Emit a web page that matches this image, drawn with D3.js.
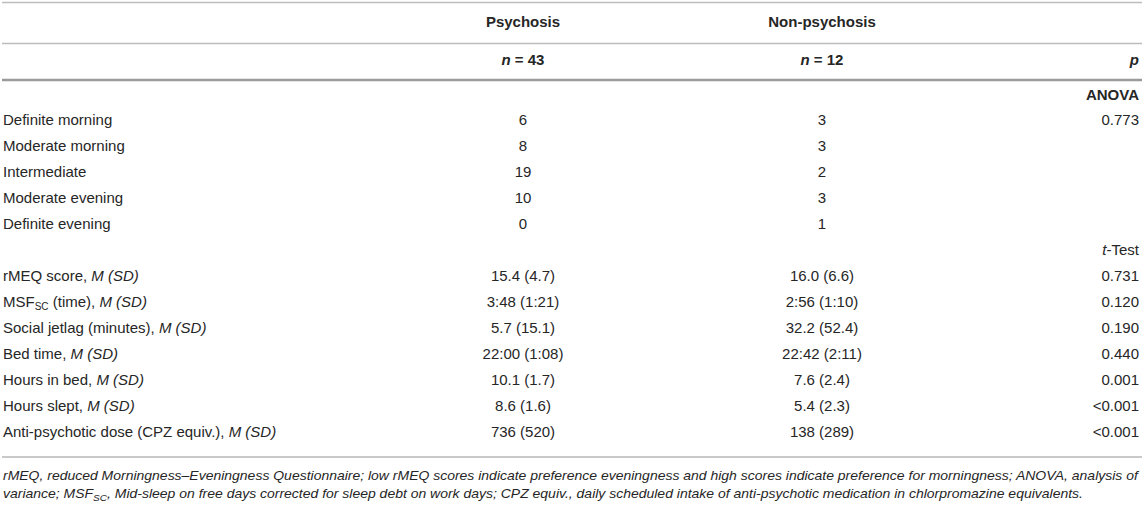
<!DOCTYPE html>
<html>
<head>
<meta charset="utf-8">
<script src="https://cdn.jsdelivr.net/npm/d3@7"></script>
<style>
html,body{margin:0;padding:0;background:#fff;}
svg{display:block;font-family:"Liberation Sans",Arial,Helvetica,sans-serif;}
</style>
</head>
<body>
<svg id="chart" width="1144" height="505"></svg>
<script>
// ---- data ----
const groups = ["Psychosis", "Non-psychosis"];
const groupN = [43, 12];
const rowLabels = [
  "Definite morning", "Moderate morning", "Intermediate", "Moderate evening", "Definite evening",
  "rMEQ score, M (SD)", "MSF_SC (time), M (SD)", "Social jetlag (minutes), M (SD)",
  "Bed time, M (SD)", "Hours in bed, M (SD)", "Hours slept, M (SD)",
  "Anti-psychotic dose (CPZ equiv.), M (SD)"
];
const psychosisValues = ["6", "8", "19", "10", "0", "15.4 (4.7)", "3:48 (1:21)", "5.7 (15.1)", "22:00 (1:08)", "10.1 (1.7)", "8.6 (1.6)", "736 (520)"];
const nonPsychosisValues = ["3", "3", "2", "3", "1", "16.0 (6.6)", "2:56 (1:10)", "32.2 (52.4)", "22:42 (2:11)", "7.6 (2.4)", "5.4 (2.3)", "138 (289)"];
const pValues = ["0.773", "", "", "", "", "0.731", "0.120", "0.190", "0.440", "0.001", "<0.001", "<0.001"];
const testLabels = ["ANOVA", "t-Test"];
const footnoteLines = [
  "rMEQ, reduced Morningness–Eveningness Questionnaire; low rMEQ scores indicate preference eveningness and high scores indicate preference for morningness; ANOVA, analysis of",
  "variance; MSF_SC, Mid-sleep on free days corrected for sleep debt on work days; CPZ equiv., daily scheduled intake of anti-psychotic medication in chlorpromazine equivalents."
];

// ---- layout ----
const W = 1144;
const svg = d3.select("#chart");
const ink = "#262626";
const fs = 15;

const x = d3.scaleOrdinal().domain(["label", "Psychosis", "Non-psychosis", "p"]).range([3, 523, 822, 1139]);
const bodyOrder = ["ANOVA", ...rowLabels.slice(0, 5), "t-Test", ...rowLabels.slice(5)];
const y = d3.scalePoint().domain(bodyOrder).range([99.5, 437]);

const rules = [
  {y: 2.5, w: 1.6, c: "#bdbdbd"},
  {y: 43.5, w: 1.6, c: "#bdbdbd"},
  {y: 80, w: 2.6, c: "#9a9a9a"},
  {y: 457, w: 2, c: "#c8c8c8"}
];
svg.selectAll("line.rule").data(rules).join("line")
  .attr("class", "rule")
  .attr("x1", 2).attr("x2", W - 2)
  .attr("y1", d => d.y).attr("y2", d => d.y)
  .attr("stroke", d => d.c).attr("stroke-width", d => d.w);

function richText(sel, str, opts) {
  opts = opts || {};
  const parts = [];
  let s = str;
  const mIdx = s.lastIndexOf("M (SD)");
  let tail = null;
  if (mIdx >= 0) { tail = s.slice(mIdx); s = s.slice(0, mIdx); }
  if (s.indexOf("_SC") >= 0) {
    const [a, b] = s.split("_SC");
    parts.push({t: a}); parts.push({t: "SC", sub: true}); parts.push({t: b, after: true});
  } else parts.push({t: s});
  if (tail) parts.push({t: tail, it: true});
  const dy = opts.subDy || 3;
  parts.forEach(p => {
    if (!p.t) return;
    const ts = sel.append("tspan").text(p.t);
    if (p.it || opts.italic) ts.attr("font-style", "italic");
    if (p.sub) ts.attr("font-size", opts.subSize || 10).attr("dy", dy);
    if (p.after) ts.attr("dy", -dy);
  });
}

svg.selectAll("text.grp").data(groups).join("text")
  .attr("class", "grp")
  .attr("x", d => x(d)).attr("y", 27)
  .attr("text-anchor", "middle").attr("font-weight", "bold")
  .attr("font-size", fs).attr("fill", ink)
  .text(d => d);

svg.selectAll("text.n").data(groups).join("text")
  .attr("class", "n")
  .attr("x", d => x(d)).attr("y", 65)
  .attr("text-anchor", "middle").attr("font-weight", "bold")
  .attr("font-size", fs).attr("fill", ink)
  .each(function(d, i) {
    const t = d3.select(this);
    t.append("tspan").attr("font-style", "italic").text("n");
    t.append("tspan").text(" = " + groupN[i]);
  });

svg.append("text")
  .attr("x", x("p")).attr("y", 65).attr("text-anchor", "end")
  .attr("font-weight", "bold").attr("font-style", "italic")
  .attr("font-size", fs).attr("fill", ink).text("p");

svg.append("text")
  .attr("x", x("p")).attr("y", y("ANOVA")).attr("text-anchor", "end")
  .attr("font-weight", "bold").attr("font-size", fs).attr("fill", ink)
  .text(testLabels[0]);
const tt = svg.append("text")
  .attr("x", x("p")).attr("y", y("t-Test")).attr("text-anchor", "end")
  .attr("font-size", fs).attr("fill", ink);
tt.append("tspan").attr("font-style", "italic").text(testLabels[1].split("-")[0]);
tt.append("tspan").text("-" + testLabels[1].split("-")[1]);

const rows = rowLabels.map((l, i) => ({label: l, a: psychosisValues[i], b: nonPsychosisValues[i], p: pValues[i]}));
const g = svg.selectAll("g.row").data(rows).join("g").attr("class", "row")
  .attr("transform", d => `translate(0,${y(d.label)})`)
  .attr("font-size", fs).attr("fill", ink);

g.append("text").attr("x", x("label")).each(function(d) { richText(d3.select(this), d.label, {subSize: 10, subDy: 3}); });
g.append("text").attr("x", x("Psychosis")).attr("text-anchor", "middle").text(d => d.a);
g.append("text").attr("x", x("Non-psychosis")).attr("text-anchor", "middle").text(d => d.b);
g.append("text").attr("x", x("p")).attr("text-anchor", "end").text(d => d.p);

// footnote: stretched horizontally so the first line spans the table width
const fy = [480.5, 498.5];
const foot = svg.append("g");
const ft = foot.selectAll("text.foot").data(footnoteLines).join("text")
  .attr("class", "foot")
  .attr("x", 0).attr("y", (d, i) => fy[i])
  .attr("font-size", 12.5).attr("font-style", "italic").attr("fill", ink)
  .each(function(d) { richText(d3.select(this), d, {italic: true, subSize: 9, subDy: 3}); });
const w1 = ft.nodes()[0].getComputedTextLength() || 1020;
const k = 1136 / w1;
foot.attr("transform", `translate(3,0) scale(${k},1)`);
</script>
</body>
</html>
